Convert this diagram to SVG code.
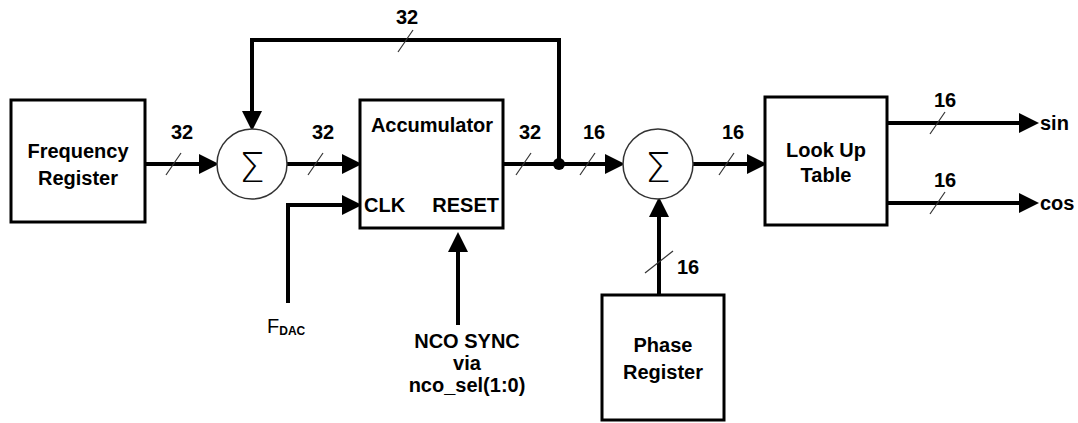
<svg xmlns="http://www.w3.org/2000/svg" width="1078" height="423" viewBox="0 0 1078 423">
<defs>
<marker id="ah" markerUnits="userSpaceOnUse" markerWidth="20" markerHeight="20" refX="0" refY="9" orient="auto" viewBox="0 0 18 18">
<path d="M0,0 L18,9 L0,18 Z" fill="#000"/>
</marker>
<style>
.box{fill:#fff;stroke:#000;stroke-width:3}
.sum{fill:#fff;stroke:#333;stroke-width:1.5}
.wire{fill:none;stroke:#000;stroke-width:4}
.arr{fill:none;stroke:#000;stroke-width:4;marker-end:url(#ah)}
.slash{stroke:#333;stroke-width:1.2}
text{font-family:"Liberation Sans",Arial,sans-serif;font-weight:bold;fill:#000}
.t{font-size:20px;text-anchor:middle}
.lbl{font-size:20px;text-anchor:middle}
.sig{font-family:"DejaVu Sans ExtraLight","DejaVu Sans","Liberation Sans",sans-serif;font-weight:200;font-size:41px;text-anchor:middle}
</style>
</defs>
<rect width="1078" height="423" fill="#fff"/>
<g id="connectors">
<path class="arr" d="M145,164 H199"/>
<path class="arr" d="M287,164 H342"/>
<path class="arr" d="M288,303 V205 H342"/>
<path class="arr" d="M458,325 V252"/>
<path class="wire" d="M503,164 H559"/>
<path class="arr" d="M559,164 H605"/>
<path class="arr" d="M559,164 V40 H252 V111"/>
<path class="arr" d="M693,164 H747"/>
<path class="arr" d="M659,295 V217"/>
<path class="arr" d="M887,123 H1019"/>
<path class="arr" d="M887,203 H1019"/>
<circle cx="559" cy="164" r="6" fill="#000"/>
<line class="slash" x1="166" y1="175" x2="181" y2="153"/>
<line class="slash" x1="308" y1="175" x2="323" y2="153"/>
<line class="slash" x1="398" y1="52" x2="413" y2="30"/>
<line class="slash" x1="516" y1="175" x2="531" y2="153"/>
<line class="slash" x1="580" y1="175" x2="595" y2="153"/>
<line class="slash" x1="719" y1="175" x2="734" y2="153"/>
<line class="slash" x1="930" y1="134" x2="945" y2="112"/>
<line class="slash" x1="930" y1="214" x2="945" y2="192"/>
<line class="slash" x1="645" y1="273" x2="673" y2="251"/>
<text class="lbl" x="182" y="139">32</text>
<text class="lbl" x="323" y="139">32</text>
<text class="lbl" x="407" y="24">32</text>
<text class="lbl" x="530" y="139">32</text>
<text class="lbl" x="594" y="139">16</text>
<text class="lbl" x="733" y="139">16</text>
<text class="lbl" x="945" y="107">16</text>
<text class="lbl" x="945" y="187">16</text>
<text class="lbl" x="688" y="274">16</text>
<text x="1040" y="130" style="font-size:20px">sin</text>
<text x="1040" y="210" style="font-size:20px">cos</text>
<text x="267" y="333" style="font-size:20px;font-weight:normal">F<tspan style="font-size:12px;font-weight:bold" dy="2">DAC</tspan></text>
<text class="t" x="467" y="348">NCO SYNC</text>
<text class="t" x="467" y="370">via</text>
<text class="t" x="467" y="392">nco_sel(1:0)</text>
</g>
<g id="freq-register">
<rect class="box" x="11" y="100" width="134" height="122"/>
<text class="t" x="78" y="158">Frequency</text>
<text class="t" x="78" y="185">Register</text>
</g>
<g id="sum1">
<circle class="sum" cx="252" cy="164" r="35"/>
<text class="sig" x="252" y="182">Σ</text>
</g>
<g id="accumulator">
<rect class="box" x="360" y="100" width="143" height="128"/>
<text class="t" x="432" y="132">Accumulator</text>
<text x="364" y="212" style="font-size:20px">CLK</text>
<text x="499" y="212" style="font-size:20px;text-anchor:end">RESET</text>
</g>
<g id="sum2">
<circle class="sum" cx="658" cy="164" r="35"/>
<text class="sig" x="658" y="182">Σ</text>
</g>
<g id="lut">
<rect class="box" x="765" y="97" width="122" height="128"/>
<text class="t" x="826" y="157">Look Up</text>
<text class="t" x="826" y="182">Table</text>
</g>
<g id="phase-register">
<rect class="box" x="602" y="295" width="122" height="125"/>
<text class="t" x="663" y="352">Phase</text>
<text class="t" x="663" y="379">Register</text>
</g>
</svg>
